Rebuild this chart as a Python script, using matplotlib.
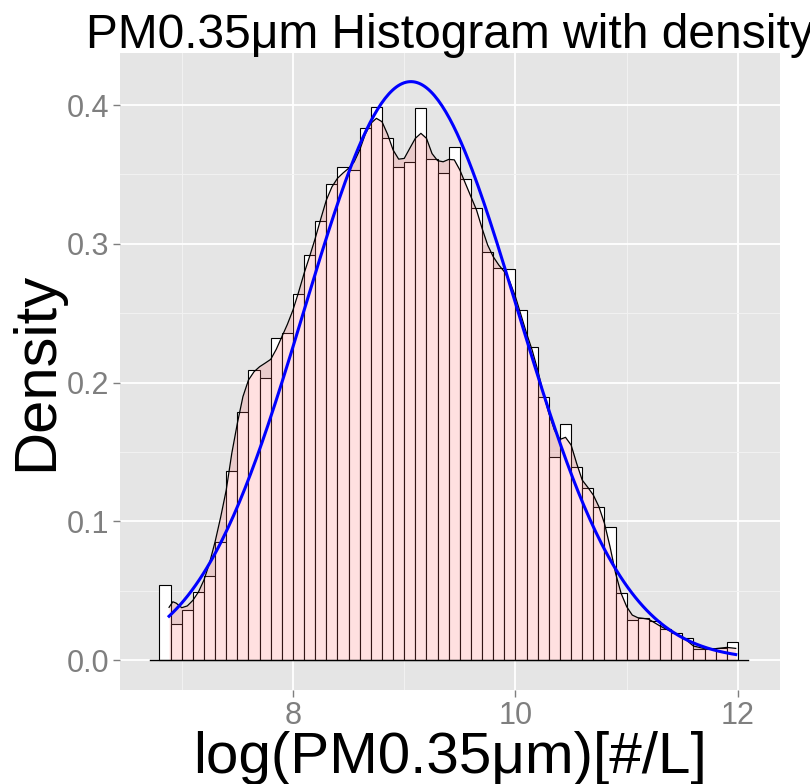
import numpy as np
import matplotlib.pyplot as plt

plt.rcParams['font.family'] = ['Liberation Sans', 'DejaVu Sans']

# histogram (density scale), bins of width 0.1 starting at 6.8
bin_start = 6.8
bin_width = 0.1
hist_density = [0.0538, 0.026, 0.036, 0.0488, 0.0605, 0.0848, 0.1365, 0.1785,
                0.209, 0.203, 0.2323, 0.2359, 0.2638, 0.2916, 0.3166, 0.3428,
                0.3556, 0.3532, 0.3836, 0.3983, 0.3765, 0.355, 0.3587, 0.3976,
                0.3608, 0.3512, 0.3695, 0.3464, 0.3255, 0.2938, 0.2823, 0.2818,
                0.2523, 0.2258, 0.1893, 0.1465, 0.1699, 0.1393, 0.1242, 0.110,
                0.0961, 0.048, 0.029, 0.030, 0.0281, 0.0223, 0.0197, 0.0156,
                0.0077, 0.0077, 0.0084, 0.0132]

# kernel density curve
kde_x = [6.886, 6.92, 6.95, 7.0, 7.05, 7.1, 7.15, 7.2, 7.25, 7.3, 7.35, 7.4,
         7.45, 7.5, 7.55, 7.6, 7.65, 7.7, 7.75, 7.8, 7.85, 7.9, 7.95, 8.0,
         8.05, 8.1, 8.15, 8.2, 8.25, 8.3, 8.35, 8.4, 8.45, 8.5, 8.55, 8.6,
         8.65, 8.7, 8.75, 8.8, 8.85, 8.9, 8.95, 9.0, 9.05, 9.1, 9.15, 9.2,
         9.25, 9.3, 9.35, 9.4, 9.45, 9.5, 9.55, 9.6, 9.65, 9.7, 9.75, 9.8,
         9.85, 9.9, 9.95, 10.0, 10.05, 10.1, 10.15, 10.2, 10.25, 10.3, 10.35,
         10.4, 10.45, 10.5, 10.55, 10.6, 10.65, 10.7, 10.75, 10.8, 10.85,
         10.9, 10.95, 11.0, 11.05, 11.1, 11.15, 11.2, 11.3, 11.4, 11.5, 11.6,
         11.7, 11.8, 11.9, 11.98]
kde_y = [0.038, 0.042, 0.041, 0.0377, 0.039, 0.043, 0.049, 0.0577, 0.070,
         0.0853, 0.103, 0.1225, 0.149, 0.1706, 0.1898, 0.2018, 0.2078, 0.2114,
         0.214, 0.2167, 0.224, 0.233, 0.242, 0.2523, 0.265, 0.2787, 0.291,
         0.3039, 0.318, 0.3315, 0.341, 0.3472, 0.351, 0.3544, 0.359, 0.3676,
         0.379, 0.3868, 0.3904, 0.388, 0.379, 0.3676, 0.361, 0.3615, 0.3688,
         0.376, 0.3796, 0.376, 0.365, 0.3599, 0.3591, 0.3608, 0.3605, 0.3532,
         0.3435, 0.3339, 0.3243, 0.3111, 0.2991, 0.2907, 0.2847, 0.2799,
         0.2726, 0.2618, 0.2486, 0.2354, 0.2234, 0.209, 0.1922, 0.1778, 0.1658,
         0.159, 0.1605, 0.155, 0.1417, 0.1297, 0.1245, 0.1189, 0.1105, 0.0985,
         0.0817, 0.0625, 0.048, 0.0384, 0.0324, 0.0305, 0.030, 0.0293, 0.0245,
         0.0204, 0.0168, 0.0101, 0.0082, 0.0082, 0.0091, 0.0084]

# fitted normal
norm_mean = 9.06
norm_sd = 0.957

x_ticks = [8, 10, 12]
y_ticks = [0.0, 0.1, 0.2, 0.3, 0.4]

fig = plt.figure(figsize=(8.1, 7.84), dpi=100)
ax = fig.add_axes([120/810, 1 - 690/784, 660/810, 637/784])
ax.set_facecolor('#E5E5E5')

lefts = bin_start + bin_width * np.arange(len(hist_density))
ax.bar(lefts, hist_density, width=bin_width, align='edge', color='white',
       edgecolor='black', linewidth=0.8, zorder=2)

ax.fill_between(kde_x, kde_y, 0, color='#FF6666', alpha=0.2, lw=0, zorder=3)
ax.plot(kde_x, kde_y, color='black', lw=0.9, zorder=4)
ax.plot([6.715, 12.09], [0, 0], color='black', lw=1.0, zorder=4)

xs = np.linspace(kde_x[0], kde_x[-1], 300)
ys = np.exp(-0.5 * ((xs - norm_mean) / norm_sd) ** 2) / (norm_sd * np.sqrt(2 * np.pi))
ax.plot(xs, ys, color='#0000FF', lw=2.2, zorder=5)

ax.set_xlim(6.445, 12.378)
ax.set_ylim(-0.0216, 0.4375)
ax.set_xticks(x_ticks)
ax.set_xticklabels([str(t) for t in x_ticks])
ax.set_yticks(y_ticks)
ax.set_yticklabels(['%.1f' % t for t in y_ticks])
ax.set_xticks([7, 9, 11], minor=True)
ax.set_yticks([0.05, 0.15, 0.25, 0.35], minor=True)
ax.grid(which='major', color='white', lw=1.3, zorder=0)
ax.grid(which='minor', color='#F2F2F2', lw=0.7, zorder=0)
ax.set_axisbelow(True)
for s in ax.spines.values():
    s.set_visible(False)
ax.tick_params(which='major', colors='#7F7F7F', labelsize=22, length=5, width=1)
ax.tick_params(axis='y', pad=3)
ax.tick_params(axis='x', pad=3)
ax.tick_params(which='minor', length=0)

fig.text(450/810, 1 - 48/784, 'PM0.35μm Histogram with density', fontsize=34.5,
         ha='center', va='baseline')
fig.text(450/810, 1 - 773/784, 'log(PM0.35μm)[#/L]', fontsize=42,
         ha='center', va='baseline')
fig.text(52/810, 1 - 371/784, 'Density', fontsize=43, rotation=90,
         rotation_mode='anchor', ha='center', va='baseline')

fig.savefig('out.png', dpi=100)
